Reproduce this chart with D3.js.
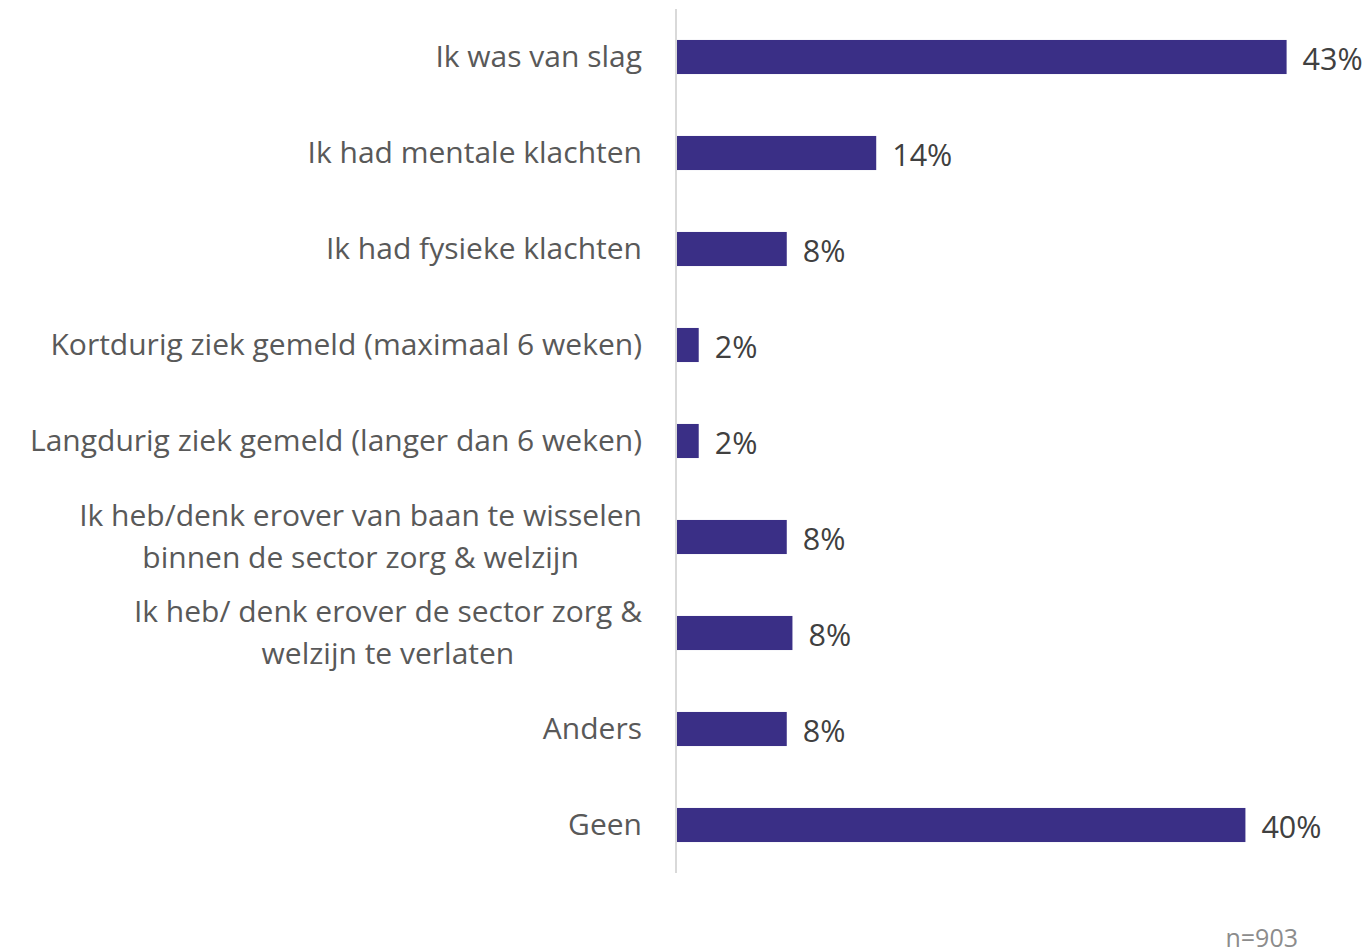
<!DOCTYPE html>
<html>
<head>
<meta charset="utf-8">
<script src="https://cdn.jsdelivr.net/npm/d3@7"></script>
<style>
  html, body { margin: 0; padding: 0; background: #fff; }
  svg { display: block; font-family: "Open Sans", "Noto Sans", sans-serif; }
</style>
</head>
<body>
<svg id="chart" width="1369" height="950"></svg>
<script>
// Reasons (each line of a category label is one array entry)
const categories = [
  ["Ik was van slag"],
  ["Ik had mentale klachten"],
  ["Ik had fysieke klachten"],
  ["Kortdurig ziek gemeld (maximaal 6 weken)"],
  ["Langdurig ziek gemeld (langer dan 6 weken)"],
  ["Ik heb/denk erover van baan te wisselen", "binnen de sector zorg & welzijn"],
  ["Ik heb/ denk erover de sector zorg &", "welzijn te verlaten"],
  ["Anders"],
  ["Geen"]
];
// Share of respondents, percent
const values = [43.0, 14.1, 7.8, 1.6, 1.6, 7.8, 8.2, 7.8, 40.1];
const sampleNote = "n=903";

const svg = d3.select("#chart");
const axisX = 676;

const x = d3.scaleLinear().domain([0, 45]).range([axisX, axisX + 639]);
const y = d3.scaleBand()
  .domain(d3.range(categories.length))
  .range([9, 873])
  .paddingInner(0.645)
  .paddingOuter(0.3225);

// Bars
svg.append("g").selectAll("rect")
  .data(values)
  .join("rect")
  .attr("x", x(0))
  .attr("y", (d, i) => y(i))
  .attr("width", d => x(d) - x(0))
  .attr("height", y.bandwidth())
  .attr("fill", "#3a2f86");

// Vertical category axis line
svg.append("line")
  .attr("x1", axisX).attr("x2", axisX)
  .attr("y1", 9).attr("y2", 873)
  .attr("stroke", "#d9d9d9")
  .attr("stroke-width", 2);

// Value labels
svg.append("g").selectAll("text")
  .data(values)
  .join("text")
  .attr("x", d => x(d) + 16)
  .attr("y", (d, i) => y(i) + y.bandwidth() / 2 + 13)
  .attr("fill", "#404040")
  .style("font-size", "30.5px")
  .text(d => Math.round(d) + "%");

// Category labels: block right-aligned to the axis, lines centered within the block
const lineH = 42;
const labelG = svg.append("g");
categories.forEach((lines, i) => {
  const cy = y(i) + y.bandwidth() / 2;
  const g = labelG.append("g");
  const texts = lines.map((ln, k) => g.append("text")
    .attr("y", cy + (k - (lines.length - 1) / 2) * lineH + 10)
    .attr("fill", "#595959")
    .style("font-size", "30px")
    .text(ln));
  const widths = texts.map(t => t.node().getComputedTextLength());
  const maxW = d3.max(widths);
  const right = 642;
  const center = right - maxW / 2;
  texts.forEach(t => t.attr("x", center).attr("text-anchor", "middle"));
});

// Sample size note
svg.append("text")
  .attr("x", 1298)
  .attr("y", 947)
  .attr("text-anchor", "end")
  .attr("fill", "#8c8c8c")
  .style("font-size", "25px")
  .text(sampleNote);
</script>
</body>
</html>
